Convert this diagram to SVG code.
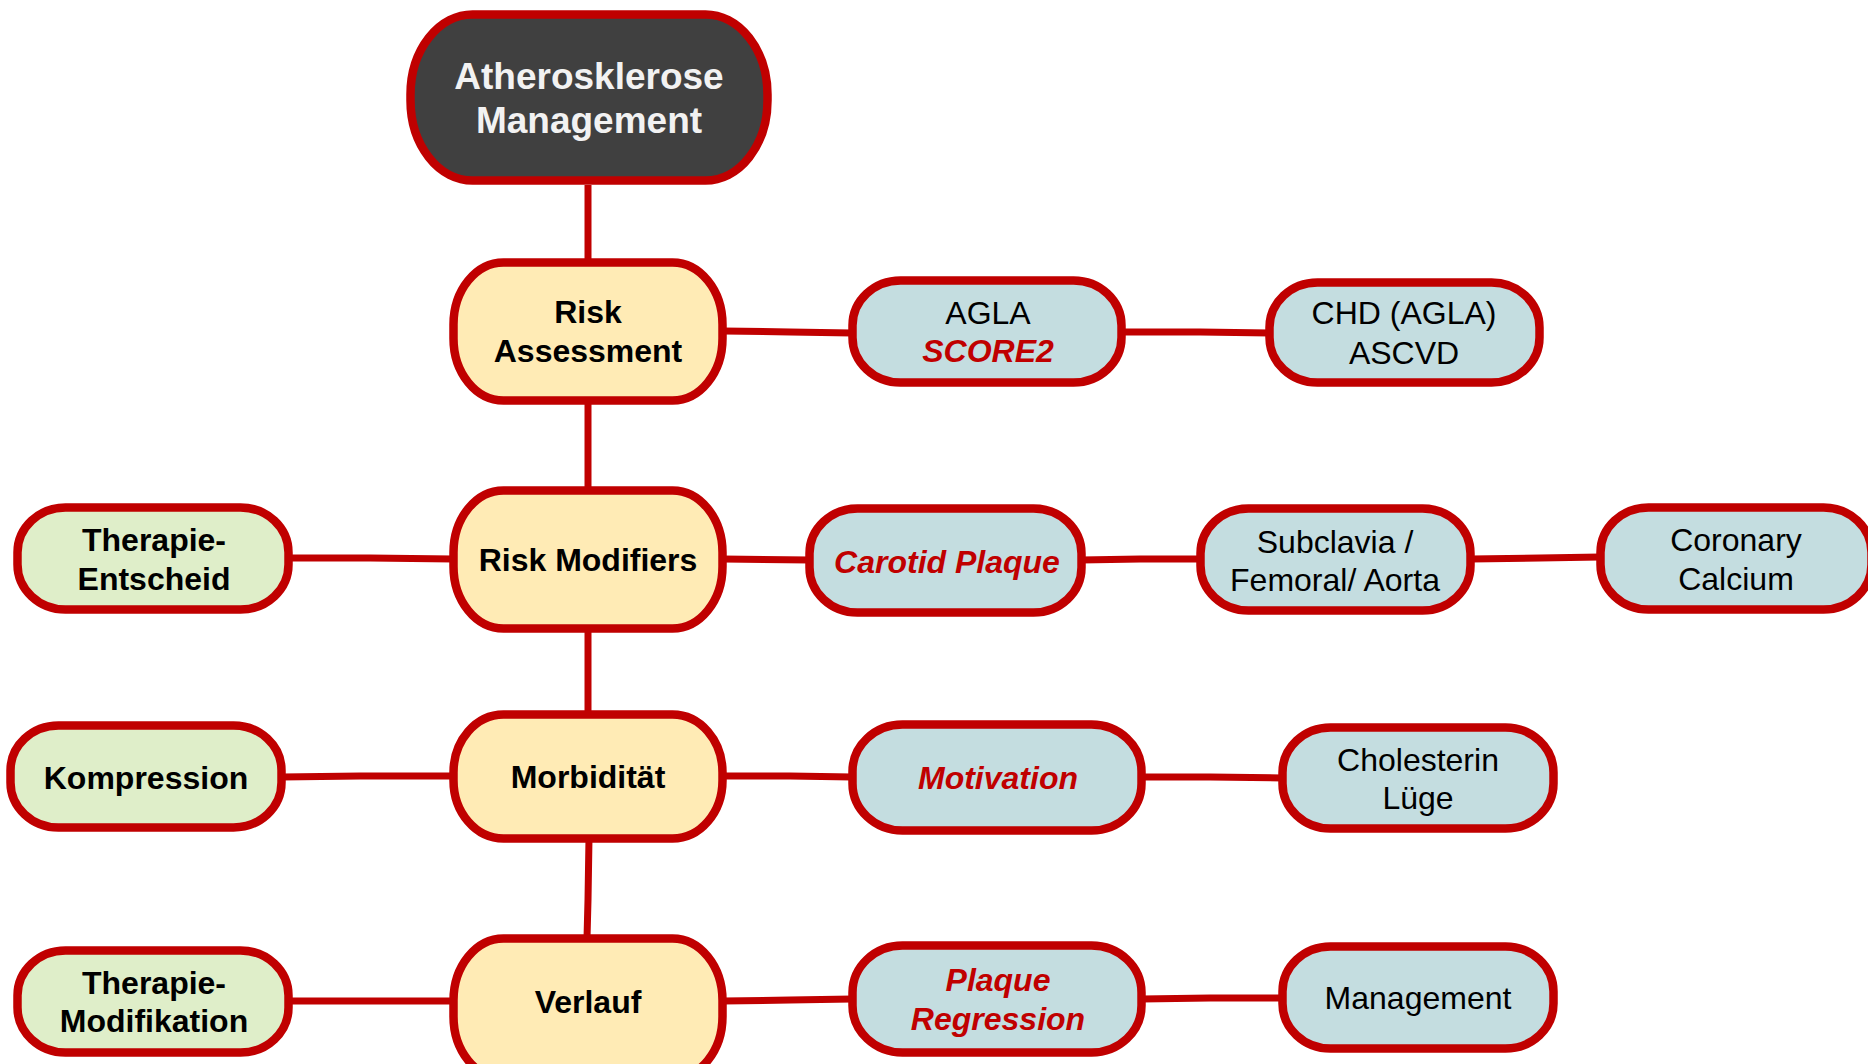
<svg xmlns="http://www.w3.org/2000/svg" width="1868" height="1064" viewBox="0 0 1868 1064">
<style>
.n{stroke:#c00000;stroke-width:8.5}
.root{fill:#404040}
.y{fill:#ffebb5}
.g{fill:#dfeec9}
.b{fill:#c4dde0}
.c{fill:none;stroke:#c00000;stroke-width:7;stroke-linecap:butt}
text{font-family:"Liberation Sans",Arial,sans-serif;font-size:32px;text-anchor:middle;fill:#000}
.bd{font-weight:bold}
.r{font-weight:bold;font-style:italic;fill:#c00000}
.w{fill:#f2f2f2;font-weight:bold;font-size:37px}
</style>
<rect width="1868" height="1064" fill="#fff"/>
<g id="connectors">
<path class="c" d="M588 185V262"/>
<path class="c" d="M588 401V490"/>
<path class="c" d="M588 629V714"/>
<path class="c" d="M589 838L588 900L587 938"/>
<path class="c" d="M723 331L790 332L852 333"/>
<path class="c" d="M1122 332L1200 332L1270 333"/>
<path class="c" d="M289 558L370 558L453 559"/>
<path class="c" d="M723 559L810 560"/>
<path class="c" d="M1081 560L1140 559L1200 559"/>
<path class="c" d="M1471 559L1540 558L1600 557"/>
<path class="c" d="M282 777L360 776L453 776"/>
<path class="c" d="M723 776L790 776L852 777"/>
<path class="c" d="M1142 777L1210 777L1282 778"/>
<path class="c" d="M289 1001L453 1001"/>
<path class="c" d="M723 1001L790 1000L852 999"/>
<path class="c" d="M1142 999L1210 998L1282 998"/>
</g>
<g id="root">
<rect class="n root" x="410.5" y="14.5" width="357" height="166" rx="62" ry="80"/>
<text class="w" x="589" y="89">Atherosklerose</text>
<text class="w" x="589" y="133">Management</text>
</g>
<g id="risk-assessment">
<rect class="n y" x="453.5" y="262.5" width="269" height="138" rx="50" ry="62"/>
<text class="bd" x="588" y="323">Risk</text>
<text class="bd" x="588" y="362">Assessment</text>
</g>
<g id="risk-modifiers">
<rect class="n y" x="453.5" y="490.5" width="269" height="138" rx="50" ry="62"/>
<text class="bd" x="588" y="571">Risk Modifiers</text>
</g>
<g id="morbiditaet">
<rect class="n y" x="453.5" y="714.5" width="269" height="124" rx="50" ry="58"/>
<text class="bd" x="588" y="788">Morbidität</text>
</g>
<g id="verlauf">
<rect class="n y" x="453.5" y="938.5" width="269" height="140" rx="50" ry="62"/>
<text class="bd" x="588" y="1013">Verlauf</text>
</g>
<g id="therapie-entscheid">
<rect class="n g" x="17.5" y="507.5" width="271" height="102" rx="48" ry="45"/>
<text class="bd" x="154" y="551">Therapie-</text>
<text class="bd" x="154" y="590">Entscheid</text>
</g>
<g id="kompression">
<rect class="n g" x="10.5" y="725.5" width="271" height="102" rx="48" ry="45"/>
<text class="bd" x="146" y="789">Kompression</text>
</g>
<g id="therapie-modifikation">
<rect class="n g" x="17.5" y="950.5" width="271" height="102" rx="48" ry="45"/>
<text class="bd" x="154" y="994">Therapie-</text>
<text class="bd" x="154" y="1032">Modifikation</text>
</g>
<g id="agla">
<rect class="n b" x="852.5" y="280.5" width="269" height="102" rx="48" ry="45"/>
<text x="988" y="324">AGLA</text>
<text class="r" x="988" y="362">SCORE2</text>
</g>
<g id="chd">
<rect class="n b" x="1269.5" y="282.5" width="270" height="100" rx="48" ry="45"/>
<text x="1404" y="324">CHD (AGLA)</text>
<text x="1404" y="364">ASCVD</text>
</g>
<g id="carotid-plaque">
<rect class="n b" x="809.5" y="508.5" width="272" height="104" rx="48" ry="45"/>
<text class="r" x="947" y="573">Carotid Plaque</text>
</g>
<g id="subclavia">
<rect class="n b" x="1200.5" y="508.5" width="270" height="102" rx="48" ry="45"/>
<text x="1335" y="553">Subclavia /</text>
<text x="1335" y="591">Femoral/ Aorta</text>
</g>
<g id="coronary-calcium">
<rect class="n b" x="1600.5" y="507.5" width="271" height="102" rx="48" ry="45"/>
<text x="1736" y="551">Coronary</text>
<text x="1736" y="590">Calcium</text>
</g>
<g id="motivation">
<rect class="n b" x="852.5" y="724.5" width="289" height="106" rx="50" ry="47"/>
<text class="r" x="998" y="789">Motivation</text>
</g>
<g id="cholesterin">
<rect class="n b" x="1282.5" y="727.5" width="271" height="101" rx="48" ry="45"/>
<text x="1418" y="771">Cholesterin</text>
<text x="1418" y="809">Lüge</text>
</g>
<g id="plaque-regression">
<rect class="n b" x="852.5" y="945.5" width="289" height="107" rx="50" ry="47"/>
<text class="r" x="998" y="991">Plaque</text>
<text class="r" x="998" y="1030">Regression</text>
</g>
<g id="management">
<rect class="n b" x="1282.5" y="946.5" width="271" height="102" rx="48" ry="45"/>
<text x="1418" y="1009">Management</text>
</g>
</svg>
